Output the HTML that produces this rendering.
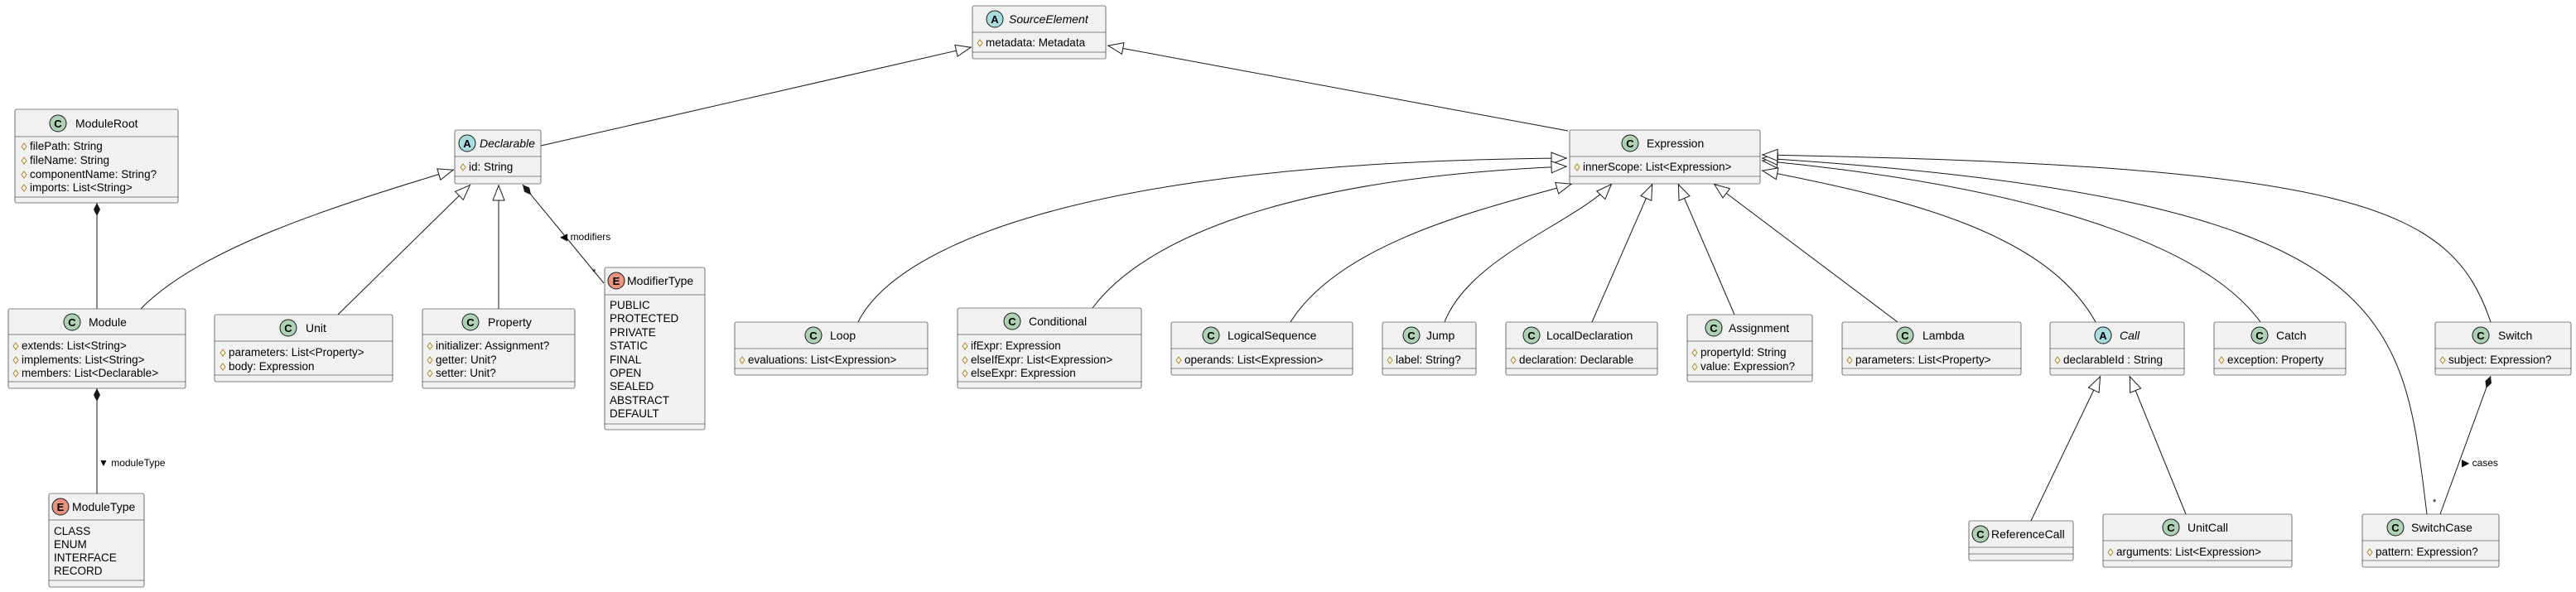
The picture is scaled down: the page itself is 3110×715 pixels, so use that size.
<!DOCTYPE html>
<html><head><meta charset="utf-8"><style>
html,body{margin:0;padding:0;background:#fff;width:3110px;height:715px;overflow:hidden}
svg text{font-family:"Liberation Sans",sans-serif;fill:#000}
.n{font-size:14px}.a{font-size:13.5px}.i{font-style:italic}
.ic{font-size:13px;font-weight:bold;text-anchor:middle}
.b{fill:#F1F1F1;stroke:#181818;stroke-width:0.6}
.l{stroke:#181818;stroke-width:0.6}
.e{fill:none;stroke:#181818;stroke-width:1}
.d{fill:none;stroke:#B38D22;stroke-width:1}
</style></head><body>
<svg width="3110" height="715" viewBox="0 0 3110 715" xmlns="http://www.w3.org/2000/svg">
<defs>
<marker id="t" viewBox="0 0 20 16" refX="20" refY="8" markerWidth="20" markerHeight="16" markerUnits="userSpaceOnUse" orient="auto"><path d="M1,1 L19,8 L1,15 Z" fill="#fff" stroke="#181818"/></marker>
<marker id="dm" viewBox="0 0 18 10" refX="0" refY="5" markerWidth="18" markerHeight="10" markerUnits="userSpaceOnUse" orient="auto"><path d="M0,5 L8,1 L16,5 L8,9 Z" fill="#181818"/></marker>
</defs>

<!-- edges -->
<path class="e" d="M653,176 L1173,57" marker-end="url(#t)"/>
<path class="e" d="M1893,158 L1337,55" marker-end="url(#t)"/>
<path class="e" d="M117,245 L117,373" marker-start="url(#dm)"/>
<path class="e" d="M117,469 L117,596" marker-start="url(#dm)"/>
<text x="119" y="563" style="font-size:12px">▼ moduleType</text>
<path class="e" d="M631,223 L729,342" marker-start="url(#dm)"/>
<text x="676" y="290" style="font-size:12px">◀ modifiers</text>
<text x="715" y="332" style="font-size:11px">*</text>
<path class="e" d="M170,373 C241,300 400,250 548,205" marker-end="url(#t)"/>
<path class="e" d="M408,380 L568,223" marker-end="url(#t)"/>
<path class="e" d="M602,373 L602,223" marker-end="url(#t)"/>
<path class="e" d="M1036,389 C1080,300 1300,195 1892,191" marker-end="url(#t)"/>
<path class="e" d="M1319,372 C1380,290 1550,215 1892,201" marker-end="url(#t)"/>
<path class="e" d="M1558,389 C1620,290 1800,250 1898,222" marker-end="url(#t)"/>
<path class="e" d="M1744,389 C1775,310 1900,270 1946,222" marker-end="url(#t)"/>
<path class="e" d="M1922,389 L1995,222" marker-end="url(#t)"/>
<path class="e" d="M2094,380 L2026,222" marker-end="url(#t)"/>
<path class="e" d="M2291,389 L2069,222" marker-end="url(#t)"/>
<path class="e" d="M2530,389 C2470,280 2300,240 2127,206" marker-end="url(#t)"/>
<path class="e" d="M2729,389 C2650,280 2400,220 2127,194" marker-end="url(#t)"/>
<path class="e" d="M2930,621 C2900,380 2900,240 2127,191" marker-end="url(#t)"/>
<path class="e" d="M3007,389 C2960,250 2850,200 2127,187" marker-end="url(#t)"/>
<path class="e" d="M2452,629 L2536,454" marker-end="url(#t)"/>
<path class="e" d="M2639,621 L2571,454" marker-end="url(#t)"/>
<path class="e" d="M3007,454 L2946,621" marker-start="url(#dm)"/>
<text x="2972" y="563" style="font-size:12px">▶ cases</text>
<text x="2937" y="610" style="font-size:11px">*</text>

<!-- ModuleRoot -->
<rect class="b" x="18" y="132" width="197" height="113" rx="2"/>
<line class="l" x1="18" y1="165" x2="215" y2="165"/><line class="l" x1="18" y1="238" x2="215" y2="238"/>
<circle cx="70" cy="149" r="10" fill="#ADD1B2" stroke="#181818"/><text class="ic" x="70" y="154">C</text>
<text class="n" x="91" y="154">ModuleRoot</text>
<path class="d" d="M26,177 l3,-4 l3,4 l-3,4z"/><text class="a" x="36" y="181">filePath: String</text>
<path class="d" d="M26,194 l3,-4 l3,4 l-3,4z"/><text class="a" x="36" y="198">fileName: String</text>
<path class="d" d="M26,211 l3,-4 l3,4 l-3,4z"/><text class="a" x="36" y="215">componentName: String?</text>
<path class="d" d="M26,227 l3,-4 l3,4 l-3,4z"/><text class="a" x="36" y="231">imports: List&lt;String&gt;</text>

<!-- Declarable -->
<rect class="b" x="549" y="157" width="104" height="65" rx="2"/>
<line class="l" x1="549" y1="189" x2="653" y2="189"/><line class="l" x1="549" y1="213" x2="653" y2="213"/>
<circle cx="564" cy="173" r="10" fill="#A9DCDF" stroke="#181818"/><text class="ic" x="564" y="178">A</text>
<text class="n i" x="579" y="178">Declarable</text>
<path class="d" d="M556,202 l3,-4 l3,4 l-3,4z"/><text class="a" x="566" y="206">id: String</text>

<!-- Module -->
<rect class="b" x="10" y="373" width="214" height="96" rx="2"/>
<line class="l" x1="10" y1="404" x2="224" y2="404"/><line class="l" x1="10" y1="461" x2="224" y2="461"/>
<circle cx="87" cy="389" r="10" fill="#ADD1B2" stroke="#181818"/><text class="ic" x="87" y="394">C</text>
<text class="n" x="107" y="394">Module</text>
<path class="d" d="M16,418 l3,-4 l3,4 l-3,4z"/><text class="a" x="26" y="422">extends: List&lt;String&gt;</text>
<path class="d" d="M16,435 l3,-4 l3,4 l-3,4z"/><text class="a" x="26" y="439">implements: List&lt;String&gt;</text>
<path class="d" d="M16,451 l3,-4 l3,4 l-3,4z"/><text class="a" x="26" y="455">members: List&lt;Declarable&gt;</text>

<!-- Unit -->
<rect class="b" x="259" y="380" width="215" height="81" rx="2"/>
<line class="l" x1="259" y1="412" x2="474" y2="412"/><line class="l" x1="259" y1="453" x2="474" y2="453"/>
<circle cx="348" cy="396" r="10" fill="#ADD1B2" stroke="#181818"/><text class="ic" x="348" y="401">C</text>
<text class="n" x="369" y="401">Unit</text>
<path class="d" d="M266,426 l3,-4 l3,4 l-3,4z"/><text class="a" x="276" y="430">parameters: List&lt;Property&gt;</text>
<path class="d" d="M266,443 l3,-4 l3,4 l-3,4z"/><text class="a" x="276" y="447">body: Expression</text>

<!-- Property -->
<rect class="b" x="510" y="373" width="184" height="96" rx="2"/>
<line class="l" x1="510" y1="404" x2="694" y2="404"/><line class="l" x1="510" y1="461" x2="694" y2="461"/>
<circle cx="568" cy="389" r="10" fill="#ADD1B2" stroke="#181818"/><text class="ic" x="568" y="394">C</text>
<text class="n" x="589" y="394">Property</text>
<path class="d" d="M516,418 l3,-4 l3,4 l-3,4z"/><text class="a" x="526" y="422">initializer: Assignment?</text>
<path class="d" d="M516,435 l3,-4 l3,4 l-3,4z"/><text class="a" x="526" y="439">getter: Unit?</text>
<path class="d" d="M516,451 l3,-4 l3,4 l-3,4z"/><text class="a" x="526" y="455">setter: Unit?</text>

<!-- ModifierType -->
<rect class="b" x="730" y="323" width="121" height="196" rx="2"/>
<line class="l" x1="730" y1="356" x2="851" y2="356"/><line class="l" x1="730" y1="512" x2="851" y2="512"/>
<circle cx="744" cy="339" r="10" fill="#EB937F" stroke="#181818"/><text class="ic" x="744" y="344">E</text>
<text class="n" x="757" y="344">ModifierType</text>
<text class="a" x="736" y="373">PUBLIC</text><text class="a" x="736" y="389">PROTECTED</text><text class="a" x="736" y="406">PRIVATE</text><text class="a" x="736" y="422">STATIC</text><text class="a" x="736" y="439">FINAL</text><text class="a" x="736" y="455">OPEN</text><text class="a" x="736" y="471">SEALED</text><text class="a" x="736" y="488">ABSTRACT</text><text class="a" x="736" y="504">DEFAULT</text>

<!-- ModuleType -->
<rect class="b" x="59" y="596" width="115" height="113" rx="2"/>
<line class="l" x1="59" y1="628" x2="174" y2="628"/><line class="l" x1="59" y1="701" x2="174" y2="701"/>
<circle cx="73" cy="612" r="10" fill="#EB937F" stroke="#181818"/><text class="ic" x="73" y="617">E</text>
<text class="n" x="87" y="617">ModuleType</text>
<text class="a" x="65" y="646">CLASS</text><text class="a" x="65" y="662">ENUM</text><text class="a" x="65" y="678">INTERFACE</text><text class="a" x="65" y="694">RECORD</text>

<!-- SourceElement -->
<rect class="b" x="1174" y="7" width="161" height="64" rx="2"/>
<line class="l" x1="1174" y1="39" x2="1335" y2="39"/><line class="l" x1="1174" y1="63" x2="1335" y2="63"/>
<circle cx="1201" cy="23" r="10" fill="#A9DCDF" stroke="#181818"/><text class="ic" x="1201" y="28">A</text>
<text class="n i" x="1218" y="28">SourceElement</text>
<path class="d" d="M1180,52 l3,-4 l3,4 l-3,4z"/><text class="a" x="1190" y="56">metadata: Metadata</text>

<!-- Expression -->
<rect class="b" x="1895" y="157" width="230" height="65" rx="2"/>
<line class="l" x1="1895" y1="189" x2="2125" y2="189"/><line class="l" x1="1895" y1="213" x2="2125" y2="213"/>
<circle cx="1968" cy="173" r="10" fill="#ADD1B2" stroke="#181818"/><text class="ic" x="1968" y="178">C</text>
<text class="n" x="1988" y="178">Expression</text>
<path class="d" d="M1901,202 l3,-4 l3,4 l-3,4z"/><text class="a" x="1911" y="206">innerScope: List&lt;Expression&gt;</text>

<!-- Loop -->
<rect class="b" x="887" y="389" width="233" height="64" rx="2"/>
<line class="l" x1="887" y1="421" x2="1120" y2="421"/><line class="l" x1="887" y1="445" x2="1120" y2="445"/>
<circle cx="982" cy="405" r="10" fill="#ADD1B2" stroke="#181818"/><text class="ic" x="982" y="410">C</text>
<text class="n" x="1002" y="410">Loop</text>
<path class="d" d="M893,435 l3,-4 l3,4 l-3,4z"/><text class="a" x="903" y="439">evaluations: List&lt;Expression&gt;</text>

<!-- Conditional -->
<rect class="b" x="1156" y="372" width="222" height="97" rx="2"/>
<line class="l" x1="1156" y1="404" x2="1378" y2="404"/><line class="l" x1="1156" y1="461" x2="1378" y2="461"/>
<circle cx="1222" cy="388" r="10" fill="#ADD1B2" stroke="#181818"/><text class="ic" x="1222" y="393">C</text>
<text class="n" x="1242" y="393">Conditional</text>
<path class="d" d="M1162,418 l3,-4 l3,4 l-3,4z"/><text class="a" x="1172" y="422">ifExpr: Expression</text>
<path class="d" d="M1162,435 l3,-4 l3,4 l-3,4z"/><text class="a" x="1172" y="439">elseIfExpr: List&lt;Expression&gt;</text>
<path class="d" d="M1162,451 l3,-4 l3,4 l-3,4z"/><text class="a" x="1172" y="455">elseExpr: Expression</text>

<!-- LogicalSequence -->
<rect class="b" x="1414" y="389" width="219" height="64" rx="2"/>
<line class="l" x1="1414" y1="421" x2="1633" y2="421"/><line class="l" x1="1414" y1="445" x2="1633" y2="445"/>
<circle cx="1462" cy="405" r="10" fill="#ADD1B2" stroke="#181818"/><text class="ic" x="1462" y="410">C</text>
<text class="n" x="1482" y="410">LogicalSequence</text>
<path class="d" d="M1420,435 l3,-4 l3,4 l-3,4z"/><text class="a" x="1430" y="439">operands: List&lt;Expression&gt;</text>

<!-- Jump -->
<rect class="b" x="1669" y="389" width="113" height="64" rx="2"/>
<line class="l" x1="1669" y1="421" x2="1782" y2="421"/><line class="l" x1="1669" y1="445" x2="1782" y2="445"/>
<circle cx="1704" cy="405" r="10" fill="#ADD1B2" stroke="#181818"/><text class="ic" x="1704" y="410">C</text>
<text class="n" x="1722" y="410">Jump</text>
<path class="d" d="M1675,435 l3,-4 l3,4 l-3,4z"/><text class="a" x="1685" y="439">label: String?</text>

<!-- LocalDeclaration -->
<rect class="b" x="1818" y="389" width="183" height="64" rx="2"/>
<line class="l" x1="1818" y1="421" x2="2001" y2="421"/><line class="l" x1="1818" y1="445" x2="2001" y2="445"/>
<circle cx="1849" cy="405" r="10" fill="#ADD1B2" stroke="#181818"/><text class="ic" x="1849" y="410">C</text>
<text class="n" x="1867" y="410">LocalDeclaration</text>
<path class="d" d="M1824,435 l3,-4 l3,4 l-3,4z"/><text class="a" x="1834" y="439">declaration: Declarable</text>

<!-- Assignment -->
<rect class="b" x="2037" y="380" width="151" height="81" rx="2"/>
<line class="l" x1="2037" y1="412" x2="2188" y2="412"/><line class="l" x1="2037" y1="453" x2="2188" y2="453"/>
<circle cx="2069" cy="396" r="10" fill="#ADD1B2" stroke="#181818"/><text class="ic" x="2069" y="401">C</text>
<text class="n" x="2087" y="401">Assignment</text>
<path class="d" d="M2043,426 l3,-4 l3,4 l-3,4z"/><text class="a" x="2053" y="430">propertyId: String</text>
<path class="d" d="M2043,443 l3,-4 l3,4 l-3,4z"/><text class="a" x="2053" y="447">value: Expression?</text>

<!-- Lambda -->
<rect class="b" x="2224" y="389" width="216" height="64" rx="2"/>
<line class="l" x1="2224" y1="421" x2="2440" y2="421"/><line class="l" x1="2224" y1="445" x2="2440" y2="445"/>
<circle cx="2300" cy="405" r="10" fill="#ADD1B2" stroke="#181818"/><text class="ic" x="2300" y="410">C</text>
<text class="n" x="2321" y="410">Lambda</text>
<path class="d" d="M2230,435 l3,-4 l3,4 l-3,4z"/><text class="a" x="2240" y="439">parameters: List&lt;Property&gt;</text>

<!-- Call -->
<rect class="b" x="2475" y="389" width="162" height="64" rx="2"/>
<line class="l" x1="2475" y1="421" x2="2637" y2="421"/><line class="l" x1="2475" y1="445" x2="2637" y2="445"/>
<circle cx="2539" cy="405" r="10" fill="#A9DCDF" stroke="#181818"/><text class="ic" x="2539" y="410">A</text>
<text class="n i" x="2559" y="410">Call</text>
<path class="d" d="M2481,435 l3,-4 l3,4 l-3,4z"/><text class="a" x="2491" y="439">declarableId : String</text>

<!-- Catch -->
<rect class="b" x="2673" y="389" width="159" height="64" rx="2"/>
<line class="l" x1="2673" y1="421" x2="2832" y2="421"/><line class="l" x1="2673" y1="445" x2="2832" y2="445"/>
<circle cx="2728" cy="405" r="10" fill="#ADD1B2" stroke="#181818"/><text class="ic" x="2728" y="410">C</text>
<text class="n" x="2748" y="410">Catch</text>
<path class="d" d="M2679,435 l3,-4 l3,4 l-3,4z"/><text class="a" x="2689" y="439">exception: Property</text>

<!-- Switch -->
<rect class="b" x="2940" y="389" width="164" height="64" rx="2"/>
<line class="l" x1="2940" y1="421" x2="3104" y2="421"/><line class="l" x1="2940" y1="445" x2="3104" y2="445"/>
<circle cx="2995" cy="405" r="10" fill="#ADD1B2" stroke="#181818"/><text class="ic" x="2995" y="410">C</text>
<text class="n" x="3016" y="410">Switch</text>
<path class="d" d="M2946,435 l3,-4 l3,4 l-3,4z"/><text class="a" x="2956" y="439">subject: Expression?</text>

<!-- ReferenceCall -->
<rect class="b" x="2377" y="629" width="126" height="48" rx="2"/>
<line class="l" x1="2377" y1="661" x2="2503" y2="661"/><line class="l" x1="2377" y1="669" x2="2503" y2="669"/>
<circle cx="2391" cy="645" r="10" fill="#ADD1B2" stroke="#181818"/><text class="ic" x="2391" y="650">C</text>
<text class="n" x="2404" y="650">ReferenceCall</text>

<!-- UnitCall -->
<rect class="b" x="2539" y="621" width="228" height="64" rx="2"/>
<line class="l" x1="2539" y1="653" x2="2767" y2="653"/><line class="l" x1="2539" y1="677" x2="2767" y2="677"/>
<circle cx="2621" cy="637" r="10" fill="#ADD1B2" stroke="#181818"/><text class="ic" x="2621" y="642">C</text>
<text class="n" x="2641" y="642">UnitCall</text>
<path class="d" d="M2545,667 l3,-4 l3,4 l-3,4z"/><text class="a" x="2555" y="671">arguments: List&lt;Expression&gt;</text>

<!-- SwitchCase -->
<rect class="b" x="2852" y="621" width="165" height="64" rx="2"/>
<line class="l" x1="2852" y1="653" x2="3017" y2="653"/><line class="l" x1="2852" y1="677" x2="3017" y2="677"/>
<circle cx="2892" cy="637" r="10" fill="#ADD1B2" stroke="#181818"/><text class="ic" x="2892" y="642">C</text>
<text class="n" x="2911" y="642">SwitchCase</text>
<path class="d" d="M2858,667 l3,-4 l3,4 l-3,4z"/><text class="a" x="2868" y="671">pattern: Expression?</text>
</svg>
</body></html>
